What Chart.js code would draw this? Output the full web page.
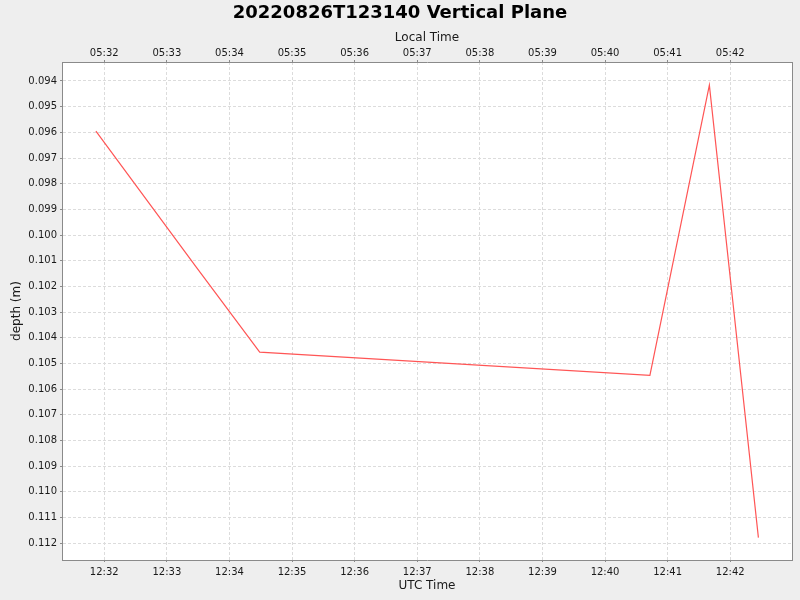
<!DOCTYPE html>
<html lang="en">
<head>
    <meta charset="UTF-8">
    <title>20220826T123140 Vertical Plane</title>
    <script src="https://cdn.jsdelivr.net/npm/chart.js@4"></script>
    <style>
        html, body { margin: 0; padding: 0; background: #eeeeee; }
        #wrap { width: 800px; height: 600px; }
    </style>
</head>
<body>
    <div id="wrap"><canvas id="depth-chart" width="800" height="600"></canvas></div>

    <script>
        // Samples (UTC clock time, depth in metres)
        const utcTimes = ['12:31:52', '12:33:28', '12:34:29', '12:40:43', '12:41:40', '12:42:27'];
        const depths = [0.09595, 0.10124, 0.10456, 0.10547, 0.09416, 0.11179];

        // Axis ticks: bottom axis in UTC, top axis in local time (UTC-7)
        const utcTickLabels = ['12:32', '12:33', '12:34', '12:35', '12:36', '12:37', '12:38', '12:39', '12:40', '12:41', '12:42'];
        const localTickLabels = ['05:32', '05:33', '05:34', '05:35', '05:36', '05:37', '05:38', '05:39', '05:40', '05:41', '05:42'];

        // Visible range of each axis
        const timeRange = ['12:31:19.5', '12:42:59.2'];
        const depthRange = [0.09326, 0.11266];

        // "hh:mm[:ss]" -> seconds since midnight
        function toSeconds(s) {
            const parts = s.split(':').map(Number);
            return parts[0] * 3600 + parts[1] * 60 + (parts[2] || 0);
        }

        const points = utcTimes.map((t, i) => ({ x: toSeconds(t), y: depths[i] }));
        const tickValues = utcTickLabels.map(toSeconds);

        const gridColor = '#dcdcdc';
        const axisColor = '#8a8a8a';
        const textColor = '#1a1a1a';

        Chart.defaults.font.family = "'DejaVu Sans', sans-serif";
        Chart.defaults.color = textColor;

        // white plot background
        const plotBackground = {
            id: 'plotBackground',
            beforeDraw(chart) {
                const { ctx, chartArea: a } = chart;
                ctx.save();
                ctx.fillStyle = '#ffffff';
                ctx.fillRect(a.left, a.top, a.right - a.left, a.bottom - a.top);
                ctx.restore();
            }
        };

        function timeAxis(position, labels, titleText, tickPad, titlePad, height, onArea) {
            return {
                type: 'linear',
                position: position,
                min: toSeconds(timeRange[0]),
                max: toSeconds(timeRange[1]),
                afterBuildTicks: (scale) => { scale.ticks = tickValues.map(v => ({ value: v })); },
                afterFit: (scale) => { scale.height = height; },
                ticks: {
                    autoSkip: false,
                    maxRotation: 0,
                    padding: tickPad,
                    font: { size: 10 },
                    color: textColor,
                    callback: (value, index) => labels[index]
                },
                grid: {
                    drawOnChartArea: onArea,
                    color: gridColor,
                    tickColor: axisColor,
                    tickLength: 2,
                    tickBorderDash: []
                },
                border: { display: true, color: axisColor, width: 1, dash: [3, 2] },
                title: { display: true, text: titleText, font: { size: 12 }, color: textColor, padding: titlePad }
            };
        }

        new Chart(document.getElementById('depth-chart').getContext('2d'), {
            type: 'line',
            data: {
                datasets: [{
                    label: 'depth',
                    data: points,
                    borderColor: '#ff5555',
                    borderWidth: 1.2,
                    pointRadius: 0,
                    fill: false,
                    tension: 0
                }]
            },
            options: {
                responsive: false,
                animation: false,
                devicePixelRatio: 1,
                layout: { padding: 0 },
                plugins: {
                    legend: { display: false },
                    tooltip: { enabled: false },
                    title: {
                        display: true,
                        text: '20220826T123140 Vertical Plane',
                        font: { size: 18, weight: 'bold' },
                        color: '#000000',
                        padding: { top: 2.2, bottom: 0.2 }
                    }
                },
                scales: {
                    x: timeAxis('bottom', utcTickLabels, 'UTC Time', 4, { top: 0, bottom: 6.5 }, 40, true),
                    x2: timeAxis('top', localTickLabels, 'Local Time', 1, { top: 6.8, bottom: 0 }, 38, false),
                    y: {
                        type: 'linear',
                        position: 'left',
                        reverse: true,
                        min: depthRange[0],
                        max: depthRange[1],
                        afterFit: (scale) => { scale.width = 62; },
                        ticks: {
                            stepSize: 0.001,
                            includeBounds: false,
                            padding: 3,
                            font: { size: 10 },
                            color: textColor,
                            callback: (value) => value.toFixed(3)
                        },
                        grid: {
                            color: gridColor,
                            tickColor: axisColor,
                            tickLength: 2,
                            tickBorderDash: []
                        },
                        border: { display: true, color: axisColor, width: 1, dash: [3, 2] },
                        title: { display: true, text: 'depth (m)', font: { size: 12 }, color: textColor, padding: { top: 10, bottom: 0 } }
                    },
                    y2: {
                        type: 'linear',
                        position: 'right',
                        min: depthRange[0],
                        max: depthRange[1],
                        afterFit: (scale) => { scale.width = 8; },
                        ticks: { display: false },
                        grid: { drawOnChartArea: false, drawTicks: false },
                        border: { display: true, color: axisColor, width: 1 }
                    }
                }
            },
            plugins: [plotBackground]
        });
    </script>
</body>
</html>
